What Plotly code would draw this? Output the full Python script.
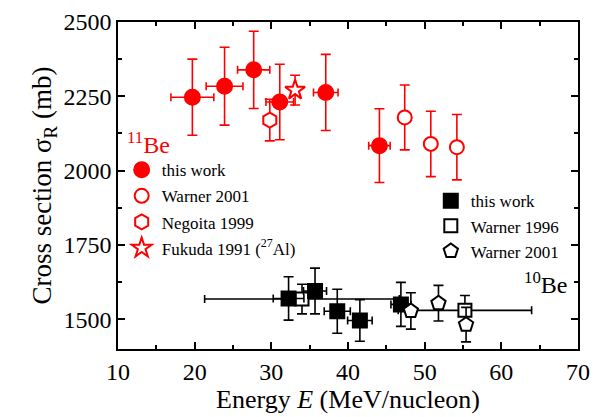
import plotly.graph_objects as go

# ---- 11Be data ----
be11_this_E = [19.7, 23.9, 27.7, 31.1, 37.1, 44.1]
be11_this_dE = [2.8, 2.4, 2.1, 1.8, 1.6, 1.4]
be11_this_s = [2247, 2284, 2339, 2231, 2263, 2084]
be11_this_ds = [128, 131, 130, 127, 128, 124]

be11_w01_E = [47.4, 50.8, 54.2]
be11_w01_s = [2179, 2090, 2079]
be11_w01_ds = [109, 110, 110]

be11_neg_E = [29.8]
be11_neg_s = [2170]
be11_neg_ds = [70]

be11_fuk_E = [33.1]
be11_fuk_s = [2271]
be11_fuk_ds = [50]

# ---- 10Be data ----
be10_this_E = [32.25, 35.7, 38.6, 41.55, 46.9]
be10_this_dE = [2.0, 1.5, 1.7, 1.6, 1.3]
be10_this_s = [1570, 1595, 1527, 1496, 1550]
be10_this_ds = [73, 77, 74, 70, 74]

be10_w96_E = [34.0, 55.25]
be10_w96_dE = [12.7, 8.7]
be10_w96_s = [1568, 1530]
be10_w96_ds = [50, 50]

be10_w01_E = [48.2, 51.8, 55.4]
be10_w01_s = [1528, 1554, 1482]
be10_w01_ds = [61, 60, 58]

x_ticks = [10, 20, 30, 40, 50, 60, 70]
y_ticks = [1500, 1750, 2000, 2250, 2500]

RED = "#ff0000"
BLK = "#000000"
FONT = "Liberation Serif, Times New Roman, serif"

fig = go.Figure()

def add(E, s, ds, dE, name, symbol, color, fill, size, legend, group):
    ex = dict(type="data", array=dE, color=color, thickness=1.6, width=4) if dE else None
    fig.add_trace(go.Scatter(
        x=E, y=s, mode="markers", name=name, legend=legend, legendgroup=group,
        marker=dict(symbol=symbol, size=size, color=fill,
                    line=dict(color=color, width=2)),
        error_y=dict(type="data", array=ds, color=color, thickness=1.6, width=5),
        error_x=ex if ex else dict(visible=False),
    ))

# order: draw 10Be first then 11Be
add(be10_w96_E, be10_w96_s, be10_w96_ds, be10_w96_dE, "Warner 1996", "square", BLK, "white", 13, "legend2", "b")
add(be10_this_E, be10_this_s, be10_this_ds, be10_this_dE, "this work", "square", BLK, BLK, 14, "legend2", "a")
add(be10_w01_E, be10_w01_s, be10_w01_ds, None, "Warner 2001", "pentagon", BLK, "white", 15, "legend2", "c")

add(be11_this_E, be11_this_s, be11_this_ds, be11_this_dE, "this work", "circle", RED, RED, 15, "legend", "d")
add(be11_w01_E, be11_w01_s, be11_w01_ds, None, "Warner 2001", "circle", RED, "white", 14, "legend", "e")
add(be11_neg_E, be11_neg_s, be11_neg_ds, None, "Negoita 1999", "hexagon", RED, "white", 15, "legend", "f")
add(be11_fuk_E, be11_fuk_s, be11_fuk_ds, None, "Fukuda 1991 (<sup>27</sup>Al)", "star", RED, "white", 15, "legend", "g")

# legend2 order: this work, Warner 1996, Warner 2001
fig.data[0].legendrank = 2
fig.data[1].legendrank = 1
fig.data[2].legendrank = 3

axis_common = dict(showline=True, linecolor=BLK, linewidth=1.5, mirror="ticks",
                   ticks="inside", ticklen=7, tickwidth=1.5, tickcolor=BLK,
                   showgrid=False, zeroline=False, ticklabeloverflow="allow",
                   tickfont=dict(family=FONT, size=24, color=BLK))

fig.update_xaxes(range=[10, 70], tickvals=x_ticks, **axis_common,
                 minor=dict(ticks="inside", ticklen=4, tickwidth=1.5, dtick=5, tick0=10, tickcolor=BLK),
                 title=dict(text="Energy <i>E</i> (MeV/nucleon)", font=dict(family=FONT, size=26, color=BLK), standoff=0))
fig.update_yaxes(range=[1400, 2500], tickvals=y_ticks, **axis_common,
                 minor=dict(ticks="inside", ticklen=4, tickwidth=1.5, dtick=125, tick0=1500, tickcolor=BLK),
                 title=dict(text="Cross section σ<sub>R</sub> (mb)", font=dict(family=FONT, size=27, color=BLK), standoff=4))

leg_font = dict(family=FONT, size=17, color=BLK)
fig.update_layout(
    width=611, height=417,
    margin=dict(l=118, r=33, t=9, b=68),
    paper_bgcolor="white", plot_bgcolor="white",
    font=dict(family=FONT, color=BLK),
    legend=dict(x=0.008, y=0.602, xanchor="left", yanchor="top", bgcolor="rgba(0,0,0,0)",
                font=leg_font, tracegroupgap=1, itemwidth=30),
    legend2=dict(x=0.68, y=0.507, xanchor="left", yanchor="top", bgcolor="rgba(0,0,0,0)",
                 font=leg_font, tracegroupgap=0, itemwidth=30),
    annotations=[
        dict(x=14.0, y=2092, xref="x", yref="y", text="<sup>11</sup>Be", showarrow=False,
             font=dict(family=FONT, size=24, color=RED)),
        dict(x=65.8, y=1622, xref="x", yref="y", text="<sup>10</sup>Be", showarrow=False,
             font=dict(family=FONT, size=24, color=BLK)),
    ],
)

fig.write_html("out.html")
